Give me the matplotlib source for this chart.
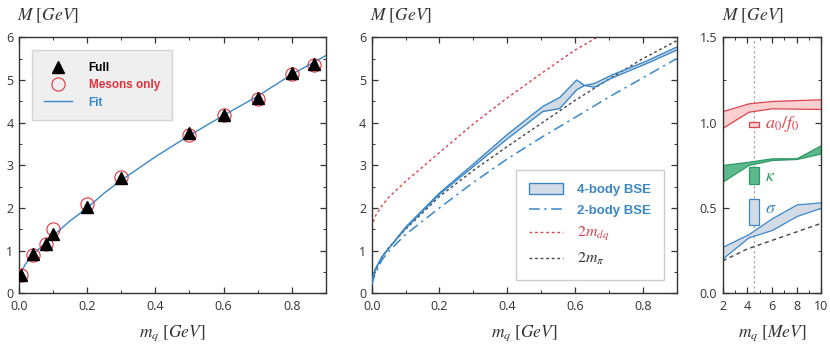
import numpy as np
import matplotlib
matplotlib.use("Agg")
import matplotlib.pyplot as plt
from matplotlib.lines import Line2D
from matplotlib.patches import Patch, Rectangle
from matplotlib.ticker import MultipleLocator, FormatStrFormatter

plt.rcParams['font.family'] = ['Open Sans', 'DejaVu Sans']
plt.rcParams['mathtext.fontset'] = 'stix'

# colours
BLUE = '#3a88c9'
RED = '#e0343d'
GREEN = '#2e9a68'
DARK = '#333333'

# ---- panel 1: masses vs quark mass ----
mq_pts = [0.005, 0.04, 0.08, 0.1, 0.2, 0.3, 0.5, 0.6, 0.7, 0.8, 0.865]
full_M = [0.42, 0.92, 1.15, 1.38, 2.03, 2.70, 3.75, 4.18, 4.57, 5.17, 5.37]
mesons_M = [0.43, 0.90, 1.16, 1.51, 2.10, 2.72, 3.72, 4.17, 4.56, 5.15, 5.35]
fit_x = [0.0, 0.01, 0.02, 0.04, 0.06, 0.08, 0.1, 0.15, 0.2, 0.25, 0.3, 0.4, 0.5, 0.6, 0.7, 0.8, 0.9]
fit_M = [0.38, 0.55, 0.70, 0.90, 1.05, 1.20, 1.35, 1.70, 2.00, 2.35, 2.65, 3.20, 3.70, 4.17, 4.62, 5.13, 5.57]

# ---- panel 2: BSE curves ----
band_x = [0.0, 0.01, 0.03, 0.05, 0.1, 0.2, 0.3, 0.4, 0.505, 0.555, 0.605, 0.628, 0.658, 0.71, 0.81, 0.9]
band_hi = [0.25, 0.55, 0.85, 1.05, 1.55, 2.35, 3.03, 3.72, 4.38, 4.59, 5.00, 4.87, 4.92, 5.12, 5.44, 5.77]
band_lo = [0.25, 0.55, 0.85, 1.05, 1.52, 2.32, 2.97, 3.62, 4.26, 4.33, 4.77, 4.87, 4.83, 5.05, 5.38, 5.70]
curve_x = [0.0, 0.01, 0.03, 0.05, 0.1, 0.2, 0.3, 0.4, 0.5, 0.6, 0.7, 0.8, 0.9]
two_body = [0.20, 0.45, 0.78, 0.98, 1.38, 2.00, 2.60, 3.15, 3.65, 4.12, 4.60, 5.05, 5.50]
two_mpi = [0.20, 0.50, 0.85, 1.07, 1.50, 2.27, 2.88, 3.44, 3.98, 4.52, 5.02, 5.50, 5.92]
dq_x = [0.0, 0.01, 0.03, 0.05, 0.1, 0.2, 0.3, 0.4, 0.5, 0.6, 0.665]
two_mdq = [1.55, 1.80, 2.05, 2.25, 2.62, 3.30, 3.97, 4.58, 5.15, 5.70, 6.00]

# ---- panel 3: light scalars vs quark mass in MeV ----
mev_x = [2, 4.1, 6, 8, 10]
a0_hi = [1.068, 1.113, 1.127, 1.132, 1.137]
a0_lo = [0.970, 1.064, 1.084, 1.082, 1.080]
kap_hi = [0.752, 0.771, 0.791, 0.791, 0.869]
kap_lo = [0.655, 0.752, 0.781, 0.787, 0.820]
sig_hi = [0.273, 0.347, 0.440, 0.521, 0.533]
sig_lo = [0.205, 0.328, 0.371, 0.453, 0.502]
pi_x = [2, 4, 6, 8, 10]
two_mpi_mev = [0.19, 0.26, 0.31, 0.36, 0.41]
phys_mq = 4.55
box_x = [4.1, 4.95]
a0_box = [0.976, 1.002]
kap_box = [0.639, 0.738]
sig_box = [0.400, 0.553]

fig = plt.figure(figsize=(8.3, 3.47), dpi=100)
ax1 = fig.add_axes([0.0229, 0.1547, 0.3696, 0.7378])
ax2 = fig.add_axes([0.4478, 0.1547, 0.3675, 0.7378])
ax3 = fig.add_axes([0.8707, 0.1547, 0.1188, 0.7378])


def style(ax, xlabel):
    for s in ax.spines.values():
        s.set_color(DARK)
        s.set_linewidth(1.0)
    ax.tick_params(which='both', direction='in', top=True, right=True,
                   colors=DARK, labelsize=9)
    ax.tick_params(axis='x', pad=5)
    ax.tick_params(axis='y', pad=4)
    ax.tick_params(which='major', length=4, width=0.9)
    ax.tick_params(which='minor', length=2.5, width=0.7)
    ax.text(-0.005, 1.085, r'$M\ [GeV]$', transform=ax.transAxes, ha='left',
            va='center', fontsize=12.5, color=DARK)
    ax.text(0.5, -0.155, xlabel, transform=ax.transAxes, ha='center',
            va='center', fontsize=12.5, color=DARK)


# panel 1
ax1.plot(fit_x, fit_M, color=BLUE, lw=1.0, label='Fit', zorder=2)
ax1.plot(mq_pts, mesons_M, 'o', ms=9.5, mfc='none', mec=RED, mew=0.8,
         label='Mesons only', zorder=3)
ax1.plot(mq_pts, full_M, '^', ms=8.5, color='black', label='Full', zorder=4)
ax1.set_xlim(0, 0.9)
ax1.set_ylim(0, 6)
ax1.xaxis.set_major_locator(MultipleLocator(0.2))
ax1.xaxis.set_minor_locator(MultipleLocator(0.1))
ax1.yaxis.set_major_locator(MultipleLocator(1))
ax1.yaxis.set_minor_locator(MultipleLocator(0.5))
ax1.xaxis.set_major_formatter(FormatStrFormatter('%.1f'))
style(ax1, r'$m_q\ [GeV]$')
h, l = ax1.get_legend_handles_labels()
order = [2, 1, 0]
leg1 = ax1.legend([h[i] for i in order], [l[i] for i in order],
                  loc='upper left', bbox_to_anchor=(0.042, 0.95),
                  fancybox=False, facecolor='#efefef', edgecolor='#d5d5d5',
                  framealpha=1, prop={'weight': 'bold', 'size': 8.5,
                                      'family': 'Liberation Sans'},
                  handlelength=2.4, borderpad=1.0, labelspacing=0.45,
                  handletextpad=1.4, borderaxespad=0)
for t, c in zip(leg1.get_texts(), ['black', RED, BLUE]):
    t.set_color(c)

# panel 2
ax2.fill_between(band_x, band_lo, band_hi, facecolor='#d3dce6', edgecolor='none', zorder=2)
ax2.plot(band_x, band_hi, color=BLUE, lw=1.0, zorder=3)
ax2.plot(band_x, band_lo, color=BLUE, lw=1.0, zorder=3)
ax2.plot(curve_x, two_body, color=BLUE, lw=1.1, ls=(0, (7, 3, 1.5, 3)), zorder=3)
ax2.plot(dq_x, two_mdq, color='#d9444f', lw=1.0, ls=(0, (2, 2)), zorder=2)
ax2.plot(curve_x, two_mpi, color='#444444', lw=1.0, ls=(0, (2, 2)), zorder=2)
ax2.set_xlim(0, 0.9)
ax2.set_ylim(0, 6)
ax2.xaxis.set_major_locator(MultipleLocator(0.2))
ax2.xaxis.set_minor_locator(MultipleLocator(0.1))
ax2.yaxis.set_major_locator(MultipleLocator(1))
ax2.yaxis.set_minor_locator(MultipleLocator(0.5))
ax2.xaxis.set_major_formatter(FormatStrFormatter('%.1f'))
style(ax2, r'$m_q\ [GeV]$')
handles2 = [Patch(facecolor='#d3dce6', edgecolor=BLUE, lw=1.0),
            Line2D([], [], color=BLUE, lw=1.1, ls=(0, (7, 3, 1.5, 3))),
            Line2D([], [], color='#d9444f', lw=1.0, ls=(0, (2, 2))),
            Line2D([], [], color='#444444', lw=1.0, ls=(0, (2, 2)))]
labels2 = ['4-body BSE', '2-body BSE', r'$2m_{dq}$', r'$2m_\pi$']
leg2 = ax2.legend(handles2, labels2, loc='lower right',
                  bbox_to_anchor=(0.958, 0.052), fancybox=False,
                  facecolor='white', edgecolor='#cccccc', framealpha=1,
                  prop={'size': 9.5, 'family': 'Liberation Sans'},
                  handlelength=2.6, handleheight=1.0, borderpad=0.95,
                  labelspacing=0.6, handletextpad=1.1, borderaxespad=0)
for t, c in zip(leg2.get_texts(), [BLUE, BLUE, '#d9444f', DARK]):
    t.set_color(c)
leg2.get_texts()[0].set_weight('bold')
leg2.get_texts()[1].set_weight('bold')
leg2.get_texts()[2].set_fontsize(11.5)
leg2.get_texts()[3].set_fontsize(11.5)

# panel 3
ax3.axvline(phys_mq, color='#aaaaaa', lw=0.9, ls=(0, (2, 2)), zorder=1)
ax3.fill_between(mev_x, a0_lo, a0_hi, facecolor='#f9cfcf', edgecolor='#d9444f', lw=0.9, zorder=2)
ax3.fill_between(mev_x, kap_lo, kap_hi, facecolor='#5cb98c', edgecolor=GREEN, lw=0.9, zorder=2)
ax3.fill_between(mev_x, sig_lo, sig_hi, facecolor='#d3dce6', edgecolor=BLUE, lw=0.9, zorder=2)
ax3.plot(pi_x, two_mpi_mev, color='#444444', lw=1.0, ls=(0, (3, 2.5)), zorder=2)
for rng, fc, ec in [(a0_box, '#f9cfcf', '#d9444f'), (kap_box, '#5cb98c', GREEN),
                    (sig_box, '#d3dce6', BLUE)]:
    ax3.add_patch(Rectangle((box_x[0], rng[0]), box_x[1] - box_x[0], rng[1] - rng[0],
                            facecolor=fc, edgecolor=ec, lw=0.9, zorder=3))
ax3.text(5.4, 0.99, r'$a_0/f_0$', color='#d9444f', fontsize=13, va='center')
ax3.text(5.4, 0.69, r'$\kappa$', color=GREEN, fontsize=13, va='center')
ax3.text(5.4, 0.50, r'$\sigma$', color=BLUE, fontsize=13, va='center')
ax3.set_xlim(2, 10)
ax3.set_ylim(0, 1.5)
ax3.xaxis.set_major_locator(MultipleLocator(2))
ax3.xaxis.set_minor_locator(MultipleLocator(1))
ax3.yaxis.set_major_locator(MultipleLocator(0.5))
ax3.yaxis.set_minor_locator(MultipleLocator(0.25))
ax3.yaxis.set_major_formatter(FormatStrFormatter('%.1f'))
style(ax3, r'$m_q\ [MeV]$')

fig.savefig('out.png', dpi=100)
